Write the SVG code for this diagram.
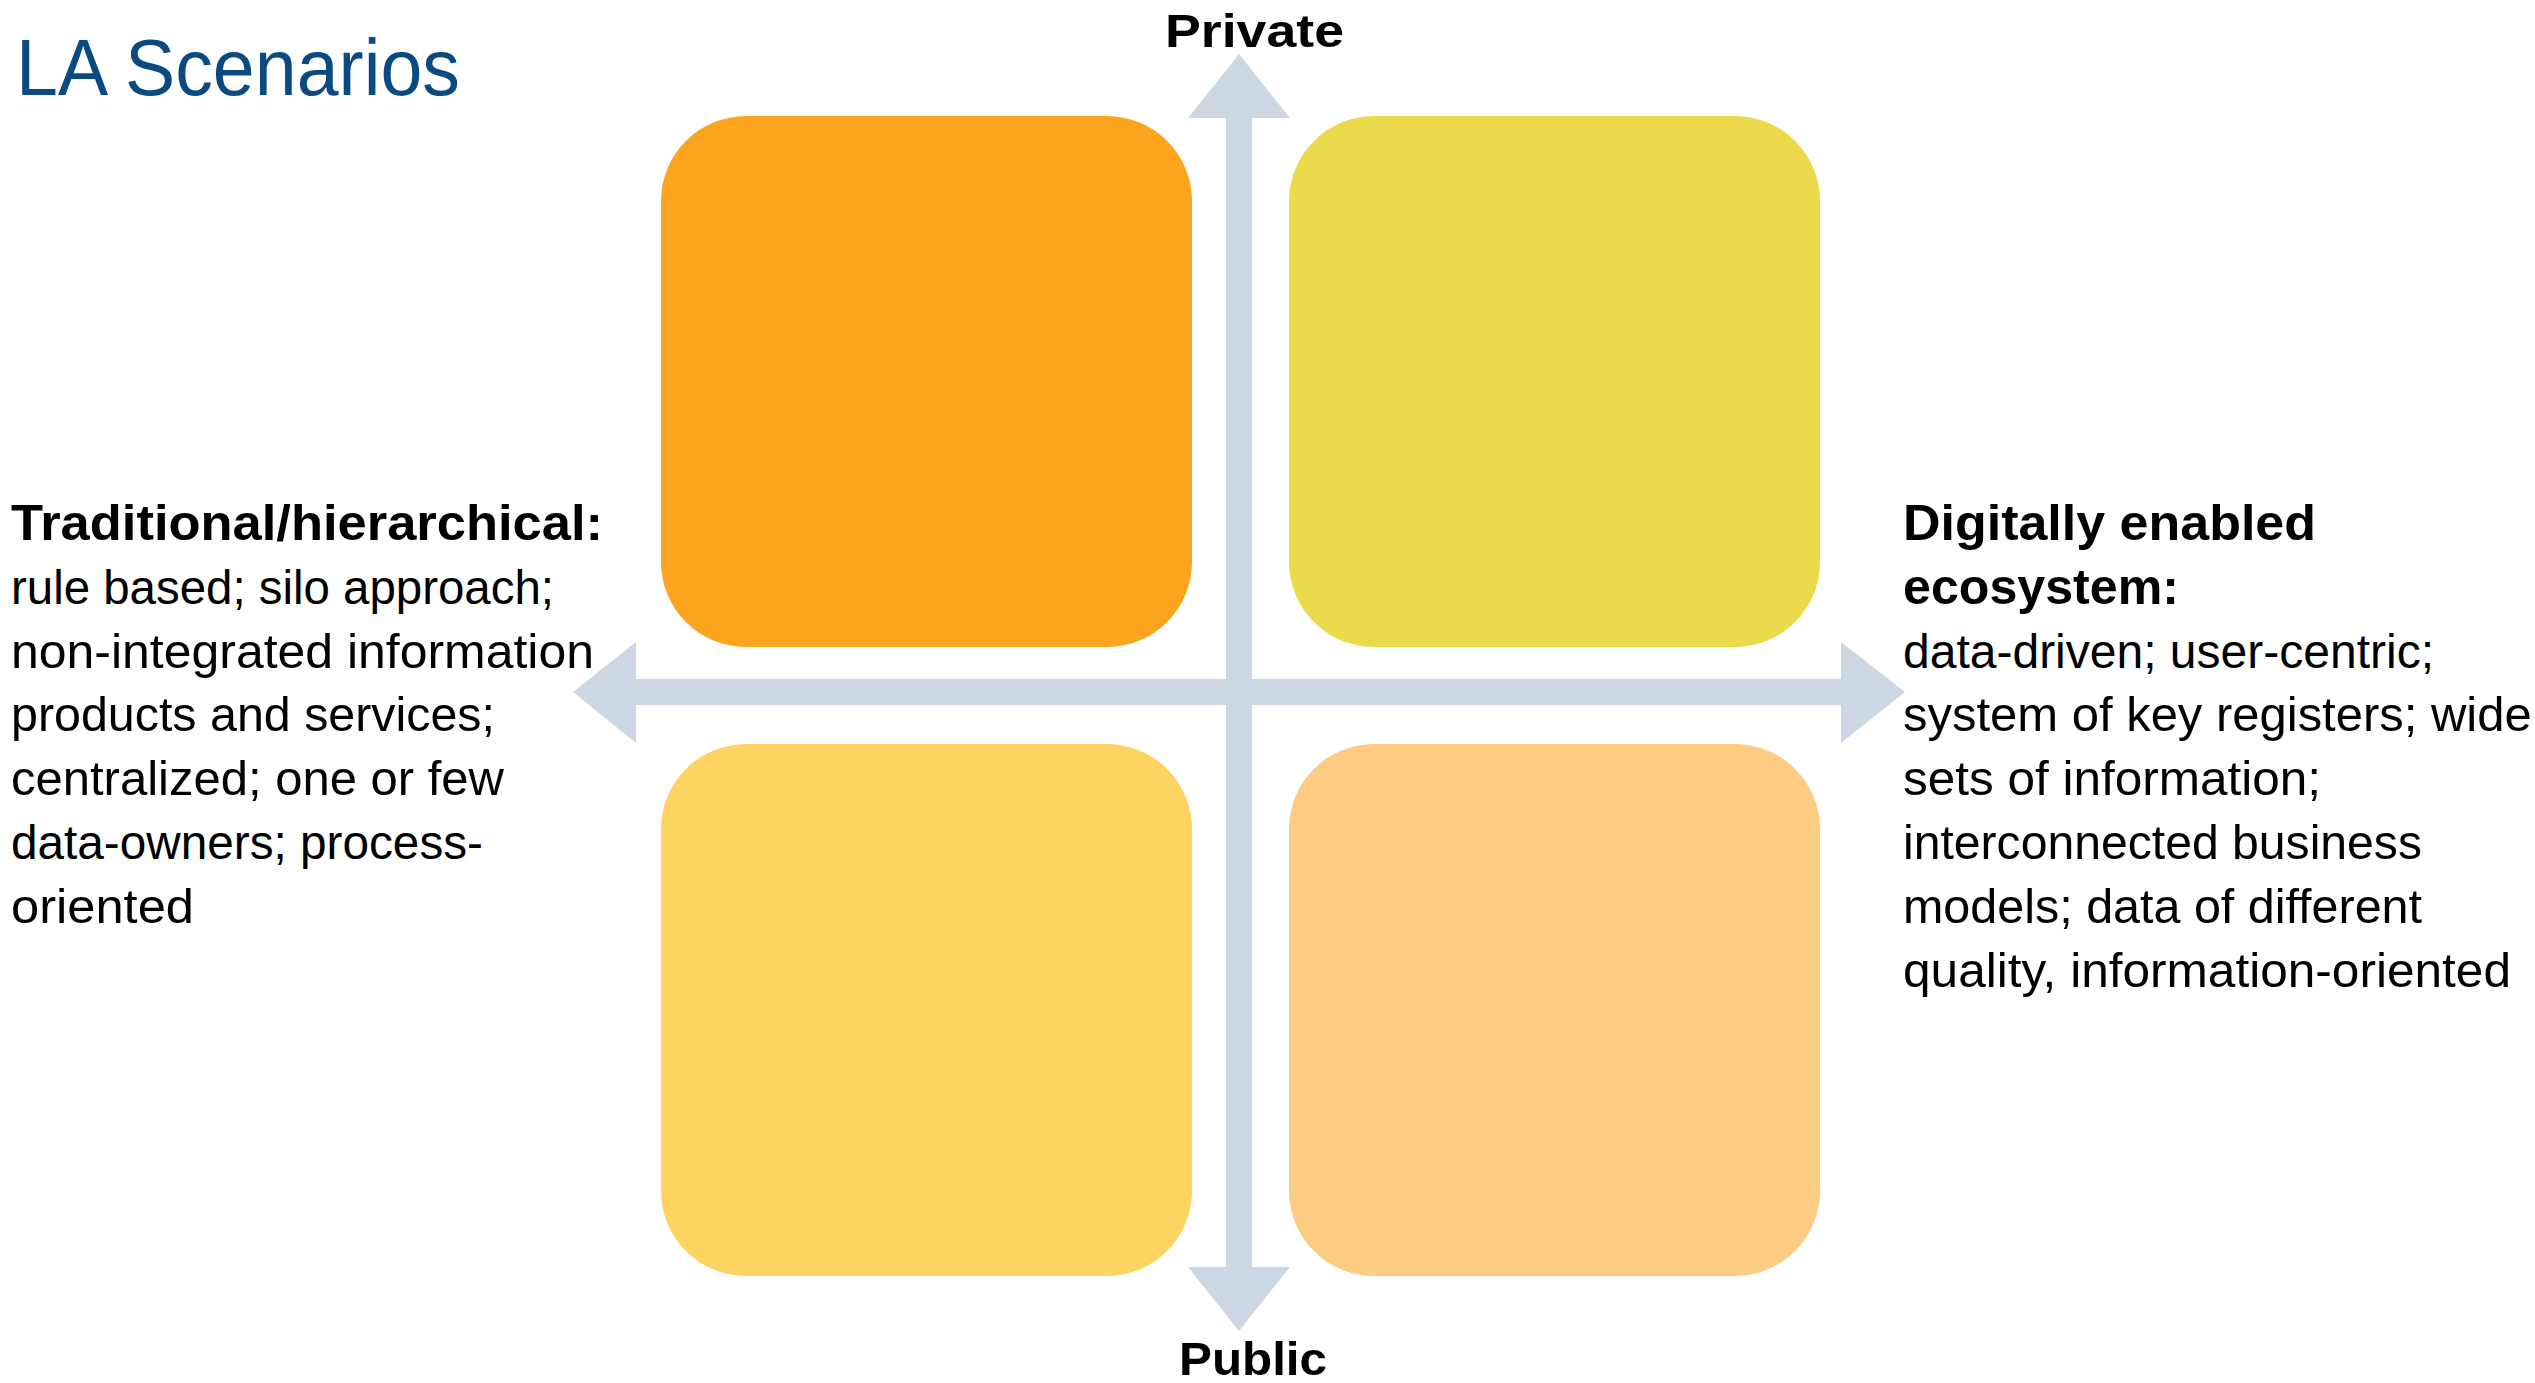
<svg xmlns="http://www.w3.org/2000/svg" width="2535" height="1383" viewBox="0 0 2535 1383">
  <style>
    .title { font-family: "Liberation Sans", Arial, sans-serif; font-size: 80px; fill: #0B4A80; }
    .axis { font-family: "Liberation Sans", Arial, sans-serif; font-size: 47px; font-weight: bold; fill: #000; }
    .head { font-family: "Liberation Sans", Arial, sans-serif; font-size: 50px; font-weight: bold; fill: #000; }
    .body { font-family: "Liberation Sans", Arial, sans-serif; font-size: 48px; fill: #000; }
    .arrow { fill: #CDD7E3; }
  </style>
  <rect x="0" y="0" width="2535" height="1383" fill="#FFFFFF"/>

  <g id="title">
    <text class="title" x="16" y="95" textLength="444" lengthAdjust="spacingAndGlyphs">LA Scenarios</text>
  </g>

  <g id="quadrant-top-left">
    <rect x="661" y="116" width="531" height="531" rx="85" ry="85" fill="#FDA41E"/>
  </g>
  <g id="quadrant-top-right">
    <rect x="1289" y="116" width="531" height="531" rx="85" ry="85" fill="#EBDA4B"/>
  </g>
  <g id="quadrant-bottom-left">
    <rect x="661" y="744" width="531" height="532" rx="85" ry="85" fill="#FDD461"/>
  </g>
  <g id="quadrant-bottom-right">
    <rect x="1289" y="744" width="531" height="532" rx="85" ry="85" fill="#FDCB82"/>
  </g>

  <g id="connectors">
    <polygon class="arrow" points="573,692 636,642 636,679 1841,679 1841,642 1905,692 1841,743 1841,705 636,705 636,743"/>
    <polygon class="arrow" points="1239,54 1290,118 1252,118 1252,1267 1290,1267 1239,1331 1188,1267 1226,1267 1226,118 1188,118"/>
  </g>

  <g id="label-private">
    <text class="axis" x="1165" y="47" textLength="179" lengthAdjust="spacingAndGlyphs">Private</text>
  </g>
  <g id="label-public">
    <text class="axis" x="1179" y="1375" textLength="148" lengthAdjust="spacingAndGlyphs">Public</text>
  </g>

  <g id="label-traditional">
    <text class="head" x="11" y="540" textLength="592" lengthAdjust="spacingAndGlyphs">Traditional/hierarchical:</text>
    <text class="body" x="11" y="604" textLength="543" lengthAdjust="spacingAndGlyphs">rule based; silo approach;</text>
    <text class="body" x="11" y="668" textLength="583" lengthAdjust="spacingAndGlyphs">non-integrated information</text>
    <text class="body" x="11" y="731" textLength="484" lengthAdjust="spacingAndGlyphs">products and services;</text>
    <text class="body" x="11" y="795" textLength="493" lengthAdjust="spacingAndGlyphs">centralized; one or few</text>
    <text class="body" x="11" y="859" textLength="472" lengthAdjust="spacingAndGlyphs">data-owners; process-</text>
    <text class="body" x="11" y="923" textLength="183" lengthAdjust="spacingAndGlyphs">oriented</text>
  </g>

  <g id="label-digital">
    <text class="head" x="1903" y="540" textLength="413" lengthAdjust="spacingAndGlyphs">Digitally enabled</text>
    <text class="head" x="1903" y="604" textLength="276" lengthAdjust="spacingAndGlyphs">ecosystem:</text>
    <text class="body" x="1903" y="668" textLength="531" lengthAdjust="spacingAndGlyphs">data-driven; user-centric;</text>
    <text class="body" x="1903" y="731" textLength="645" lengthAdjust="spacingAndGlyphs">system of key registers; wider</text>
    <text class="body" x="1903" y="795" textLength="418" lengthAdjust="spacingAndGlyphs">sets of information;</text>
    <text class="body" x="1903" y="859" textLength="519" lengthAdjust="spacingAndGlyphs">interconnected business</text>
    <text class="body" x="1903" y="923" textLength="519" lengthAdjust="spacingAndGlyphs">models; data of different</text>
    <text class="body" x="1903" y="987" textLength="608" lengthAdjust="spacingAndGlyphs">quality, information-oriented</text>
  </g>
</svg>
